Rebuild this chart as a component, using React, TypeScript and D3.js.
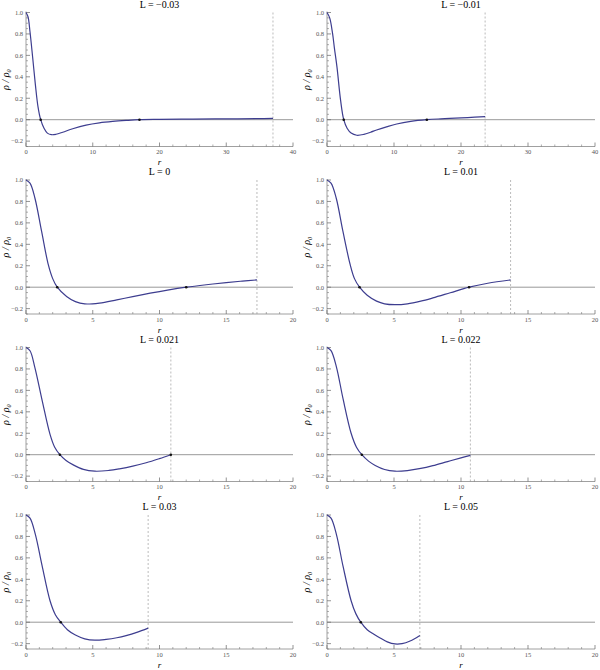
import React from "react";
import * as d3 from "d3";

const titles = ["L = −0.03", "L = −0.01", "L = 0", "L = 0.01", "L = 0.021", "L = 0.022", "L = 0.03", "L = 0.05"];
const xMaxes = [40, 40, 20, 20, 20, 20, 20, 20];
const xTickSteps = [10, 10, 5, 5, 5, 5, 5, 5];
const edgeR = [37, 23.6, 17.3, 13.7, 10.85, 10.7, 9.15, 6.93];
const yTicks = [-0.2, 0, 0.2, 0.4, 0.6, 0.8, 1.0];

const p1R = [0, 0.3, 0.6, 1.0, 1.4, 1.8, 2.2, 2.7, 3.2, 3.8, 4.5, 5.5, 7, 9, 11, 13, 15, 17, 20, 25, 30, 35, 37];
const p1Rho = [1.0, 0.96, 0.82, 0.58, 0.33, 0.12, 0.0, -0.08, -0.125, -0.14, -0.136, -0.117, -0.084, -0.05, -0.029, -0.016, -0.007, 0.0, 0.003, 0.006, 0.008, 0.01, 0.012];

const p2R = [0, 0.4, 0.84, 1.1, 1.49, 2.03, 2.5, 3.0, 3.6, 4.45, 5.5, 6.5, 7.4, 9, 10.4, 12.5, 14.9, 17, 18.3, 21, 23.6];
const p2Rho = [1.0, 0.95, 0.8, 0.67, 0.49, 0.18, 0.0, -0.08, -0.125, -0.145, -0.137, -0.117, -0.096, -0.064, -0.04, -0.016, 0.0, 0.008, 0.012, 0.02, 0.028];

const p3R = [0, 0.3, 0.67, 1.17, 1.67, 2.0, 2.34, 3.04, 3.7, 4.4, 5.5, 6.8, 8, 9.3, 10.6, 12, 13.5, 15, 16.2, 17.3];
const p3Rho = [1.0, 0.97, 0.83, 0.52, 0.21, 0.08, 0.0, -0.087, -0.135, -0.156, -0.148, -0.118, -0.088, -0.056, -0.027, 0.0, 0.023, 0.043, 0.057, 0.068];

const p4R = [0, 0.3, 0.69, 1.19, 1.73, 2.05, 2.43, 3.0, 3.7, 4.3, 5.07, 6.0, 7.0, 7.9, 9.2, 10.6, 12.0, 13.7];
const p4Rho = [1.0, 0.97, 0.83, 0.52, 0.21, 0.08, 0.0, -0.075, -0.13, -0.155, -0.163, -0.155, -0.13, -0.1, -0.052, 0.0, 0.037, 0.068];

const p5R = [0, 0.3, 0.67, 1.22, 1.8, 2.15, 2.54, 3.0, 3.54, 4.3, 5.16, 6.2, 7.0, 8.0, 9.0, 10.0, 10.85];
const p5Rho = [1.0, 0.97, 0.81, 0.5, 0.19, 0.07, 0.0, -0.055, -0.095, -0.137, -0.154, -0.147, -0.132, -0.107, -0.075, -0.036, 0.0];

const p6R = [0, 0.3, 0.7, 1.2, 1.8, 2.2, 2.6, 3.1, 3.6, 4.3, 5.07, 6.0, 7.0, 7.9, 9.0, 10.0, 10.7];
const p6Rho = [1.0, 0.97, 0.82, 0.52, 0.2, 0.07, 0.0, -0.06, -0.1, -0.138, -0.154, -0.148, -0.128, -0.102, -0.064, -0.03, -0.006];

const p7R = [0, 0.3, 0.7, 1.2, 1.8, 2.2, 2.6, 3.1, 3.7, 4.4, 5.16, 6.0, 6.8, 7.5, 8.3, 9.15];
const p7Rho = [1.0, 0.97, 0.82, 0.53, 0.2, 0.07, 0.0, -0.07, -0.12, -0.155, -0.168, -0.16, -0.145, -0.125, -0.095, -0.055];

const p8R = [0, 0.3, 0.7, 1.2, 1.8, 2.15, 2.52, 3.0, 3.47, 4.0, 4.5, 5.07, 5.6, 6.2, 6.93];
const p8Rho = [1.0, 0.97, 0.82, 0.52, 0.2, 0.08, 0.0, -0.07, -0.11, -0.15, -0.183, -0.203, -0.2, -0.175, -0.123];

const seriesR = [p1R, p2R, p3R, p4R, p5R, p6R, p7R, p8R];
const seriesRho = [p1Rho, p2Rho, p3Rho, p4Rho, p5Rho, p6Rho, p7Rho, p8Rho];

// zero-crossing markers
const markR = [[2.2, 17], [2.5, 14.9], [2.34, 12], [2.43, 10.6], [2.54, 10.85], [2.6], [2.6], [2.52]];

const colX0 = [26, 327];
const colX1 = [293, 595];
const rowTop0 = 12.5;
const rowStep = 167.5;
const plotH = 134;
const FONT = "'Liberation Serif', 'DejaVu Serif', serif";

function Panel({ i }: { i: number }) {
  const col = i % 2;
  const row = Math.floor(i / 2);
  const top = rowTop0 + rowStep * row;
  const bottom = top + plotH;
  const x = d3.scaleLinear().domain([0, xMaxes[i]]).range([colX0[col], colX1[col]]);
  const y = d3.scaleLinear().domain([-0.25, 1.0]).range([bottom, top]);
  const pts = seriesR[i].map((r, k) => [r, seriesRho[i][k]] as [number, number]);
  const line = d3
    .line<[number, number]>()
    .x((d) => x(d[0]))
    .y((d) => y(d[1]))
    .curve(d3.curveCatmullRom.alpha(0.5));
  const step = xTickSteps[i];
  const xMajor = d3.range(0, xMaxes[i] + 1e-9, step);
  const xMinor = d3.range(0, xMaxes[i] + 1e-9, step / 5).filter((v) => Math.abs(v / step - Math.round(v / step)) > 1e-6);
  const yMinor = d3.range(-0.25, 1.0001, 0.05).filter((v) => Math.abs(v / 0.2 - Math.round(v / 0.2)) > 1e-6);
  const x0 = colX0[col];
  const x1 = colX1[col];
  const cx = (x0 + x1) / 2;
  return (
    <g>
      <text x={cx} y={top - 5} textAnchor="middle" fontFamily={FONT} fontSize={10} fill="#000">
        {titles[i]}
      </text>
      <line x1={x0} x2={x1} y1={y(0)} y2={y(0)} stroke="#999" strokeWidth={1} />
      <line x1={x(edgeR[i])} x2={x(edgeR[i])} y1={top} y2={bottom} stroke="#aaa" strokeWidth={0.8} strokeDasharray="2,2" />
      <line x1={x0} x2={x1} y1={bottom} y2={bottom} stroke="#888" strokeWidth={0.8} />
      <line x1={x0} x2={x0} y1={top - 1} y2={bottom} stroke="#888" strokeWidth={0.8} />
      {xMajor.map((v) => (
        <g key={"xm" + v}>
          <line x1={x(v)} x2={x(v)} y1={bottom} y2={bottom - 4} stroke="#666" strokeWidth={0.7} />
          <text x={x(v)} y={bottom + 7.5} textAnchor="middle" fontFamily={FONT} fontSize={6.5} fill="#555">
            {String(v)}
          </text>
        </g>
      ))}
      {xMinor.map((v) => (
        <line key={"xn" + v} x1={x(v)} x2={x(v)} y1={bottom} y2={bottom - 2} stroke="#777" strokeWidth={0.6} />
      ))}
      {yTicks.map((v) => (
        <g key={"ym" + v}>
          <line x1={x0} x2={x0 + 4} y1={y(v)} y2={y(v)} stroke="#666" strokeWidth={0.7} />
          <text x={x0 - 3} y={y(v) + 2.3} textAnchor="end" fontFamily={FONT} fontSize={6.5} fill="#555">
            {v < 0 ? "−" + Math.abs(v).toFixed(1) : v.toFixed(1)}
          </text>
        </g>
      ))}
      {yMinor.map((v) => (
        <line key={"yn" + v} x1={x0} x2={x0 + 2} y1={y(v)} y2={y(v)} stroke="#777" strokeWidth={0.6} />
      ))}
      <text
        transform={`translate(${x0 - 17},${(top + bottom) / 2}) rotate(-90)`}
        textAnchor="middle"
        fontFamily={FONT}
        fontSize={10}
        fontStyle="italic"
        fill="#000"
      >
        ρ / ρ₀
      </text>
      <text x={cx} y={bottom + 18.5} textAnchor="middle" fontFamily={FONT} fontSize={9} fontStyle="italic" fill="#000">
        r
      </text>
      <path d={line(pts) || ""} fill="none" stroke="#3d3d8f" strokeWidth={1.2} />
      {markR[i].map((r) => (
        <circle key={"mk" + r} cx={x(r)} cy={y(0)} r={1.3} fill="#111" />
      ))}
    </g>
  );
}

export default function App() {
  return (
    <svg width={600} height={670} style={{ position: "absolute", left: 0, top: 0, background: "#fff" }}>
      <rect width={600} height={670} fill="#fff" />
      {titles.map((_, i) => (
        <Panel key={i} i={i} />
      ))}
    </svg>
  );
}
